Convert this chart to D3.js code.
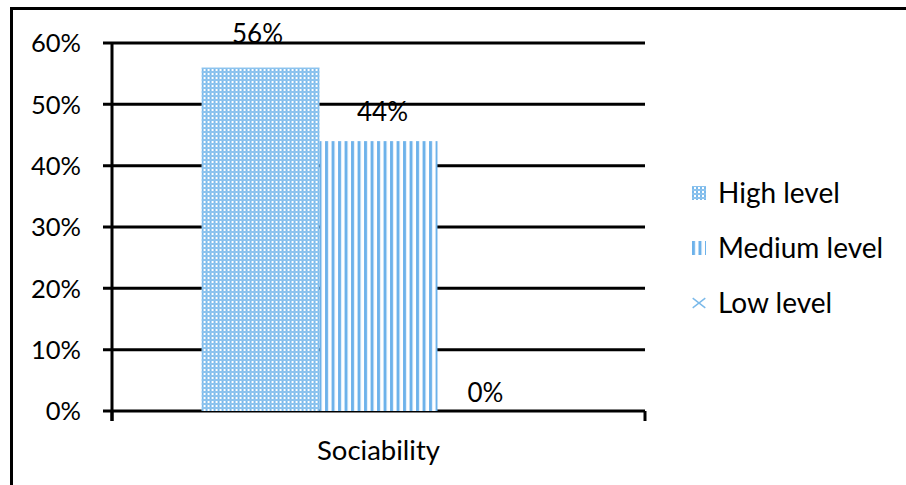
<!DOCTYPE html>
<html>
<head>
<meta charset="utf-8">
<script src="https://cdn.jsdelivr.net/npm/d3@7"></script>
<style>
  body { margin: 0; background: #fff; }
  text { font-family: Lato, "Open Sans", sans-serif; fill: #000; }
</style>
</head>
<body>
<div id="chart"></div>
<script>
// data
var categories = ["Sociability"];
var series = ["High level", "Medium level", "Low level"];
var values = [0.56, 0.44, 0];
var yTicks = [0, 0.1, 0.2, 0.3, 0.4, 0.5, 0.6];

var W = 906, H = 485;
var margin = {top: 43, right: 261, bottom: 74, left: 112};
var width = W - margin.left - margin.right;
var height = H - margin.top - margin.bottom;

var svg = d3.select("#chart").append("svg")
    .attr("width", W)
    .attr("height", H);

// patterns
var defs = svg.append("defs");
var dots = defs.append("pattern")
    .attr("id", "pat-high")
    .attr("patternUnits", "userSpaceOnUse")
    .attr("width", 4).attr("height", 4);
dots.append("rect").attr("width", 4).attr("height", 4).attr("fill", "#d9ecfa");
dots.append("rect").attr("x", 0).attr("y", 0).attr("width", 2).attr("height", 4).attr("fill", "#7ab9ea");
dots.append("rect").attr("x", 0).attr("y", 0).attr("width", 4).attr("height", 2).attr("fill", "#8cc3ee");
dots.append("rect").attr("x", 2).attr("y", 2).attr("width", 2).attr("height", 2).attr("fill", "#ffffff");

var stripes = defs.append("pattern")
    .attr("id", "pat-med")
    .attr("patternUnits", "userSpaceOnUse")
    .attr("width", 6.5).attr("height", 10);
stripes.append("rect").attr("width", 6.5).attr("height", 10).attr("fill", "#ffffff");
stripes.append("rect").attr("x", 0).attr("width", 3).attr("height", 10).attr("fill", "#6db2ea");

// one cross per box
var cross = defs.append("pattern")
    .attr("id", "pat-low")
    .attr("patternUnits", "objectBoundingBox")
    .attr("patternContentUnits", "objectBoundingBox")
    .attr("width", 1).attr("height", 1);
cross.append("rect").attr("width", 1).attr("height", 1).attr("fill", "#fff");
cross.append("path").attr("d", "M0.05,0.15 Q0.5,0.5 0.95,0.85 M0.95,0.15 Q0.5,0.5 0.05,0.85")
    .attr("stroke", "#7ab9ea").attr("stroke-width", 0.1).attr("fill", "none");

var fills = ["url(#pat-high)", "url(#pat-med)", "url(#pat-low)"];

// outer frame (top and left only are visible)
svg.append("path")
    .attr("d", "M11.5," + H + " L11.5,8.5 L" + W + ",8.5")
    .attr("fill", "none")
    .attr("stroke", "#000")
    .attr("stroke-width", 3);

var g = svg.append("g")
    .attr("transform", "translate(" + margin.left + "," + margin.top + ")");

var y = d3.scaleLinear().domain([0, 0.6]).range([height, 0]);
var x0 = d3.scaleBand().domain(categories).range([0, width]).padding(0.202);
var x1 = d3.scaleBand().domain(series).range([0, x0.bandwidth()]);

// gridlines
g.append("g")
  .selectAll("line")
  .data(yTicks)
  .enter().append("line")
    .attr("x1", -9)
    .attr("x2", width)
    .attr("y1", function(d) { return y(d); })
    .attr("y2", function(d) { return y(d); })
    .attr("stroke", "#000")
    .attr("stroke-width", 3);

// y axis
var yAxis = g.append("g")
    .call(d3.axisLeft(y).tickValues(yTicks).tickSize(0).tickPadding(31)
      .tickFormat(d3.format(".0%")));
yAxis.select(".domain").remove();
yAxis.selectAll("text")
    .style("font-size", "25.5px")
    .attr("dy", "0.35em");
g.append("line")
    .attr("x1", 0).attr("x2", 0)
    .attr("y1", 0).attr("y2", height + 10)
    .attr("stroke", "#000").attr("stroke-width", 3);

// x axis
var xAxis = g.append("g")
    .attr("transform", "translate(0," + height + ")")
    .call(d3.axisBottom(x0).tickSize(0).tickPadding(29));
xAxis.select(".domain").remove();
xAxis.selectAll("text").style("font-size", "27.5px");
g.append("g")
  .selectAll("line")
  .data([0, width])
  .enter().append("line")
    .attr("x1", function(d) { return d; })
    .attr("x2", function(d) { return d; })
    .attr("y1", height)
    .attr("y2", height + 10)
    .attr("stroke", "#000").attr("stroke-width", 3);

// bars
var group = g.selectAll(".cat")
  .data(categories)
  .enter().append("g")
    .attr("class", "cat")
    .attr("transform", function(d) { return "translate(" + x0(d) + ",0)"; });

group.selectAll("rect")
  .data(series.map(function(s, i) { return {s: s, v: values[i], i: i}; }))
  .enter().append("rect")
    .attr("x", function(d) { return x1(d.s); })
    .attr("width", x1.bandwidth())
    .attr("y", function(d) { return y(d.v); })
    .attr("height", function(d) { return height - y(d.v); })
    .attr("fill", function(d) { return fills[d.i]; });

// data labels (nudged off the bar tops as in the picture)
var lift = [25, 20, 9];
var nudge = [-3, 4, -11];
group.selectAll(".lbl")
  .data(series.map(function(s, i) { return {s: s, v: values[i], i: i}; }))
  .enter().append("text")
    .attr("class", "lbl")
    .attr("x", function(d) { return x1(d.s) + x1.bandwidth() / 2 + nudge[d.i]; })
    .attr("y", function(d) { return y(d.v) - lift[d.i]; })
    .attr("text-anchor", "middle")
    .style("font-size", "26px")
    .text(function(d) { return d3.format(".0%")(d.v); });

// legend
var legend = svg.append("g")
    .attr("transform", "translate(692,193)");
var item = legend.selectAll(".item")
  .data(series)
  .enter().append("g")
    .attr("class", "item")
    .attr("transform", function(d, i) { return "translate(0," + (i * 55) + ")"; });
item.append("rect")
    .attr("x", 0).attr("y", -7)
    .attr("width", 14).attr("height", 14)
    .attr("fill", function(d, i) { return fills[i]; });
item.append("text")
    .attr("x", 26)
    .attr("dy", "0.35em")
    .style("font-size", "28px")
    .text(function(d) { return d; });
</script>
</body>
</html>
